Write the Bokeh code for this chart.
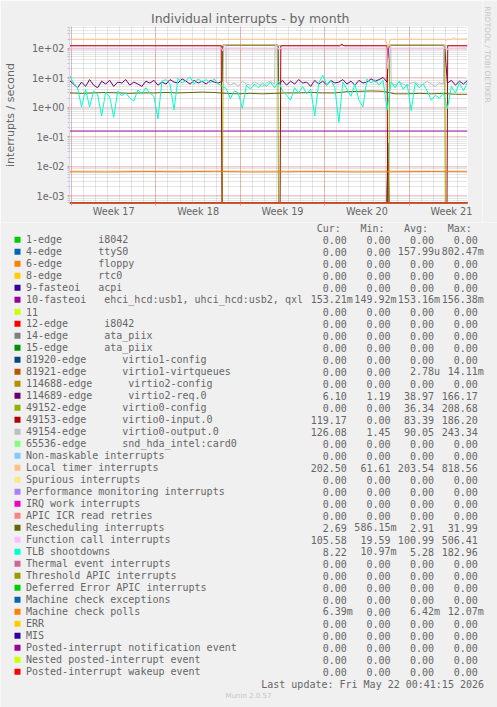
import re
import math
from bokeh.plotting import figure
from bokeh.models import (Range1d, FixedTicker, CustomJSTickFormatter, Grid, Title,
                          ColumnDataSource)
from bokeh.layouts import column, row
from bokeh.embed import file_html
from bokeh.resources import INLINE
from bokeh.core.properties import value

# ---------------------------------------------------------------- texts
TITLE = "Individual interrupts - by month"
Y_LABEL = "interrupts / second"
WATERMARK = "RRDTOOL / TOBI OETIKER"
FOOTER = "Munin 2.0.57"
LAST_UPDATE = "Last update: Fri May 22 00:41:15 2026"
HEADERS = ["Cur:", "Min:", "Avg:", "Max:"]

# ---------------------------------------------------------------- axes (x in days of the 33-day window)
X_SPAN = [0, 33]
WEEK_STARTS = [0.165, 7.165, 14.165, 21.165, 28.165]
WEEK_LABEL_POS = [3.665, 10.665, 17.665, 24.665, 31.665]
WEEK_LABELS = ["Week 17", "Week 18", "Week 19", "Week 20", "Week 21"]
DAY_TICKS = [round(0.165 + d, 3) for d in range(33)]
Y_RANGE = [5.36e-4, 536.0]
Y_TICKS = [1e-3, 1e-2, 1e-1, 1.0, 10.0, 100.0]
Y_TICK_LABELS = ["1e-03", "1e-02", "1e-01", "1e+00", "1e+01", "1e+02"]
Y_MINOR = [m * 10.0 ** e for e in range(-4, 3) for m in range(2, 10)
           if Y_RANGE[0] <= m * 10.0 ** e <= Y_RANGE[1]]

# ---------------------------------------------------------------- legend
LABELS = [
    "1-edge      i8042", "4-edge      ttyS0", "6-edge      floppy", "8-edge      rtc0",
    "9-fasteoi   acpi", "10-fasteoi   ehci_hcd:usb1, uhci_hcd:usb2, qxl", "11",
    "12-edge      i8042", "14-edge      ata_piix", "15-edge      ata_piix",
    "81920-edge      virtio1-config", "81921-edge      virtio1-virtqueues",
    "114688-edge      virtio2-config", "114689-edge      virtio2-req.0",
    "49152-edge      virtio0-config", "49153-edge      virtio0-input.0",
    "49154-edge      virtio0-output.0", "65536-edge      snd_hda_intel:card0",
    "Non-maskable interrupts", "Local timer interrupts", "Spurious interrupts",
    "Performance monitoring interrupts", "IRQ work interrupts", "APIC ICR read retries",
    "Rescheduling interrupts", "Function call interrupts", "TLB shootdowns",
    "Thermal event interrupts", "Threshold APIC interrupts", "Deferred Error APIC interrupts",
    "Machine check exceptions", "Machine check polls", "ERR", "MIS",
    "Posted-interrupt notification event", "Nested posted-interrupt event",
    "Posted-interrupt wakeup event",
]
COLORS = [
    "#00CC00", "#0066B3", "#FF8000", "#FFCC00", "#330099", "#990099", "#CCFF00", "#FF0000",
    "#808080", "#008F00", "#00487D", "#B35A00", "#B38F00", "#6B006B", "#8FB300", "#B30000",
    "#BEBEBE", "#80FF80", "#80C9FF", "#FFC080", "#FFE680", "#AA80FF", "#EE00CC", "#FF8080",
    "#666600", "#FFBFFF", "#00FFCC", "#CC6699", "#999900", "#00CC00", "#0066B3", "#FF8000",
    "#FFCC00", "#330099", "#990099", "#CCFF00", "#FF0000",
]
Z = "0.00"
CUR = [Z, Z, Z, Z, Z, "153.21m", Z, Z, Z, Z, Z, Z, Z, "6.10", Z, "119.17", "126.08", Z, Z,
       "202.50", Z, Z, Z, Z, "2.69", "105.58", "8.22", Z, Z, Z, Z, "6.39m", Z, Z, Z, Z, Z]
MIN = [Z, Z, Z, Z, Z, "149.92m", Z, Z, Z, Z, Z, Z, Z, "1.19", Z, Z, "1.45", Z, Z,
       "61.61", Z, Z, Z, Z, "586.15m", "19.59", "10.97m", Z, Z, Z, Z, Z, Z, Z, Z, Z, Z]
AVG = [Z, "157.99u", Z, Z, Z, "153.16m", Z, Z, Z, Z, Z, "2.78u", Z, "38.97", "36.34", "83.39",
       "90.05", Z, Z, "203.54", Z, Z, Z, Z, "2.91", "100.99", "5.28", Z, Z, Z, Z, "6.42m",
       Z, Z, Z, Z, Z]
MAX = [Z, "802.47m", Z, Z, Z, "156.38m", Z, Z, Z, Z, Z, "14.11m", Z, "166.17", "208.68",
       "186.20", "243.34", Z, Z, "818.56", Z, Z, Z, Z, "31.99", "506.41", "182.96", Z, Z, Z,
       Z, "12.07m", Z, Z, Z, Z, Z]

# ---------------------------------------------------------------- series (day, value)
T_GRID = [i / 3 for i in range(100)]   # 8-hour samples

TLB = [12.0, 6.5, 4.5, 1.0, 4.0, 1.0, 3.5, 2.6, 0.5, 3.2, 2.2, 0.45, 3.5, 2.4, 3.0, 2.0,
       1.6, 3.8, 2.7, 4.5, 3.0, 2.3, 0.4, 7.5, 8.5, 6.0, 0.8, 9.5, 6.5, 8.0, 10.5, 6.0,
       9.0, 7.0, 8.5, 6.5, 9.0, 6.0, 5.0, 4.2, 1.9, 3.5, 3.0, 0.9, 5.5, 4.0, 6.0, 4.5,
       6.5, 5.0, 7.0, 4.5, 7.5, 3.5, 2.5, 1.7, 4.5, 3.0, 5.0, 2.8, 4.0, 0.5, 6.5, 12.0,
       5.5, 8.0, 4.5, 0.3, 7.0, 4.0, 2.3, 6.0, 1.7, 1.0, 9.0, 6.5, 8.5, 5.5, 8.0, 0.8,
       7.0, 4.5, 7.5, 4.0, 6.0, 0.75, 6.5, 4.5, 6.0, 3.5, 1.7, 2.5, 2.0, 3.0, 0.9, 5.0,
       3.0, 6.5, 3.5, 7.0]

VIRTIO2_REQ = ([8.0, 6.0, 4.5, 7.0, 5.0, 8.5, 5.5, 4.5, 7.5, 6.0, 8.0, 5.0, 7.0, 6.5, 8.5,
                5.5, 7.0, 6.0, 5.0, 7.5, 6.5, 8.0, 5.5, 7.0, 6.0, 8.5, 7.0, 6.5, 9.0, 7.5,
                6.0, 8.0, 6.5, 7.5, 6.0, 8.0, 7.0, 6.5, 7.5]
               + [None] * 13
               + [6.0, 8.0, 5.5, 7.5, 6.0, 8.5, 6.5, 7.0, 5.0, 8.0, 6.0, 7.5, 5.5, 8.0,
                  6.5, 7.0, 8.5, 6.0, 7.5, 5.5, 8.0, 6.5, 7.0, 9.0, 7.5, 8.5, 10.0, 7.0]
               + [None] * 14
               + [6.5, 8.0, 5.5, 7.5, 6.0, 8.0])
VIRTIO2_REQ_PLATEAUS = [(12.70, 17.30, 124.0), (26.50, 31.10, 124.0)]

OUTPUT0 = ([None] * 39
           + [7.0, 5.5, 6.5, 5.0, 7.5, 6.0, 5.5, 7.0, 6.0, 5.0, 6.5, 7.5, 6.0]
           + [None] * 28
           + [6.5, 5.5, 7.0, 6.0, 5.0, 6.5, 7.0, 5.5, 6.0, 7.5, 6.0, 5.0, 6.5, 6.0]
           + [None] * 6)
OUTPUT0_PLATEAUS = [(0.0, 12.98, 121.0), (17.05, 26.64, 121.0), (31.03, 33.0, 121.0)]

INPUT0_T = [0, 12.58, 12.64, 17.46, 17.52, 22.40, 22.58, 22.75, 26.33, 26.39, 31.30, 31.36, 33]
INPUT0_V = [119, 119, 0, 0, 119, 119, 135, 119, 119, 0, 0, 119, 119]

CONFIG0_T = [0, 12.68, 12.74, 17.27, 17.33, 26.48, 26.54, 31.10, 31.16, 33]
CONFIG0_V = [0, 0, 124, 124, 0, 0, 124, 124, 0, 0]

LOCAL_T = [0, 5, 10, 12.55, 12.65, 12.75, 15, 17.25, 17.35, 17.45, 20, 24, 26.2, 26.4,
           26.6, 29, 31.1, 31.2, 31.3, 31.75, 31.85, 31.95, 33]
LOCAL_V = [200, 199, 201, 200, 185, 200, 199, 200, 188, 200, 201, 199, 200, 105,
           200, 199, 200, 175, 200, 200, 228, 202, 202]

FCALL_T = [0, 8, 12.6, 12.7, 12.8, 17.3, 17.4, 17.5, 22, 26.25, 26.4, 26.55, 31.2, 31.3,
           31.4, 33]
FCALL_V = [100, 98, 100, 80, 101, 100, 85, 100, 102, 100, 20, 100, 100, 85, 100, 103]

RESCHED_T = list(range(34))
RESCHED_V = [3.0, 2.9, 3.0, 3.1, 3.0, 2.9, 3.0, 3.0, 3.1, 3.0, 3.1, 3.2, 3.1, 2.9, 2.8, 2.9,
             2.8, 2.9, 3.0, 3.0, 3.1, 3.0, 3.0, 3.3, 3.4, 3.5, 3.4, 2.8, 2.8, 2.9, 2.8, 2.9,
             2.7, 2.7]

MCP_T = [0, 3, 6, 9, 12, 15, 18, 21, 24, 27, 30, 33]
MCP_V = [0.0064, 0.0063, 0.0065, 0.0064, 0.0066, 0.0063, 0.0064, 0.0065, 0.0063, 0.0064,
         0.0065, 0.0064]

USB_T = [0, 33]
USB_V = [0.153, 0.153]

TTYS0_T = [0, 26.3, 26.4, 26.5, 33]
TTYS0_V = [0, 0, 0.06, 0, 0]

VQ_T = [0, 26.3, 26.42, 26.5, 33]
VQ_V = [0, 0, 0.014, 0, 0]

ZERO_T = [0, 33]
ZERO_V = [0, 0]


def from_grid(vals, plateaus):
    pts = [(t, v) for t, v in zip(T_GRID, vals) if v is not None]
    for a, b, lvl in plateaus:
        pts += [(a, lvl), (b, lvl)]
    pts.sort()
    return [q[0] for q in pts], [q[1] for q in pts]


SERIES = {i: (ZERO_T, ZERO_V) for i in range(len(LABELS))}
SERIES[1] = (TTYS0_T, TTYS0_V)
SERIES[5] = (USB_T, USB_V)
SERIES[11] = (VQ_T, VQ_V)
SERIES[13] = from_grid(VIRTIO2_REQ, VIRTIO2_REQ_PLATEAUS)
SERIES[14] = (CONFIG0_T, CONFIG0_V)
SERIES[15] = (INPUT0_T, INPUT0_V)
SERIES[16] = from_grid(OUTPUT0, OUTPUT0_PLATEAUS)
SERIES[19] = (LOCAL_T, LOCAL_V)
SERIES[24] = (RESCHED_T, RESCHED_V)
SERIES[25] = (FCALL_T, FCALL_V)
SERIES[26] = (T_GRID, TLB)
SERIES[31] = (MCP_T, MCP_V)

# output drawn beneath input so the red trace stays on top
DRAW_ORDER = list(range(len(LABELS)))
DRAW_ORDER.remove(16)
DRAW_ORDER.insert(DRAW_ORDER.index(15), 16)

# ---------------------------------------------------------------- styling
BG = "#F0F0F0"
FONT_COLOR = "#666666"
AXIS_COLOR = "#CFD6F8"
GRID_COLOR = "#8F8F8F"
MGRID_COLOR = "#DE4F4F"
W = 497
PW = 482                                   # chart figure width (watermark strip to its right)
TOP_H = 222
LEG_H = 485
FL, FR, FT, FB = 67, PW - 467, 26, 19      # borders around the plotting frame

p = figure(width=PW, height=TOP_H, y_axis_type="log",
           x_range=Range1d(*X_SPAN), y_range=Range1d(*Y_RANGE),
           output_backend="svg", toolbar_location=None,
           min_border_left=FL, min_border_right=FR, min_border_top=FT,
           min_border_bottom=FB, background_fill_color="#FFFFFF",
           border_fill_color=BG, outline_line_color=None, frame_align=False)
p.title = Title(text=TITLE, align="left", offset=81.5, standoff=1,
                text_font="DejaVu Sans", text_font_size="12.5px",
                text_font_style="normal", text_color=FONT_COLOR)
p.xgrid.visible = False
p.ygrid.visible = False


def add_grid(dim, ticks, color, alpha):
    p.add_layout(Grid(dimension=dim, ticker=FixedTicker(ticks=ticks),
                      grid_line_color=color, grid_line_alpha=alpha,
                      grid_line_dash="1 1", grid_line_width=1))


add_grid(0, DAY_TICKS, GRID_COLOR, 0.45)
add_grid(1, Y_MINOR, GRID_COLOR, 0.45)
add_grid(0, WEEK_STARTS, MGRID_COLOR, 0.6)
add_grid(1, Y_TICKS, MGRID_COLOR, 0.6)

xa = p.xaxis[0]
xa.ticker = FixedTicker(ticks=WEEK_LABEL_POS, minor_ticks=WEEK_STARTS)
xa.formatter = CustomJSTickFormatter(
    args=dict(pos=WEEK_LABEL_POS, lab=WEEK_LABELS),
    code="""let b = 0;
for (let i = 1; i < pos.length; i++) { if (Math.abs(pos[i]-tick) < Math.abs(pos[b]-tick)) b = i; }
return lab[b];""")
xa.major_tick_in = 0
xa.major_tick_out = 0
xa.minor_tick_in = 0
xa.minor_tick_out = 2
xa.minor_tick_line_color = "#EB9595"
xa.axis_line_color = None
xa.major_label_standoff = 0
xa.major_label_text_font = "DejaVu Sans"
xa.major_label_text_font_size = "9.7px"
xa.major_label_text_color = FONT_COLOR

ya = p.yaxis[0]
ya.ticker = FixedTicker(ticks=Y_TICKS, minor_ticks=Y_MINOR)
ya.formatter = CustomJSTickFormatter(
    args=dict(pos=Y_TICKS, lab=Y_TICK_LABELS),
    code="""let b = 0;
for (let i = 1; i < pos.length; i++) { if (Math.abs(Math.log(pos[i]/tick)) < Math.abs(Math.log(pos[b]/tick))) b = i; }
return lab[b];""")
ya.major_tick_in = 0
ya.major_tick_out = 2
ya.major_tick_line_color = "#EB9595"
ya.minor_tick_in = 0
ya.minor_tick_out = 2
ya.minor_tick_line_color = "#C4C4C4"
ya.axis_line_color = AXIS_COLOR
ya.major_label_standoff = 3
ya.major_label_text_font = "DejaVu Sans"
ya.major_label_text_font_size = "9.7px"
ya.major_label_text_color = FONT_COLOR
ya.axis_label = Y_LABEL
ya.axis_label_standoff = 12
ya.axis_label_text_font = "DejaVu Sans"
ya.axis_label_text_font_size = "11px"
ya.axis_label_text_font_style = "normal"
ya.axis_label_text_color = FONT_COLOR

floor = Y_RANGE[0] * 10 ** (0.7 / 29.5)
for i in DRAW_ORDER:
    t, v = SERIES[i]
    p.line(list(t), [max(val, floor) for val in v], line_color=COLORS[i], line_width=1)

# ---------------------------------------------------------------- watermark strip (pixel coords)
wfig = figure(width=W - PW, height=TOP_H, x_range=Range1d(PW, W), y_range=Range1d(TOP_H, 0),
              output_backend="svg", toolbar_location=None,
              x_axis_location=None, y_axis_location=None, min_border=0,
              background_fill_color=BG, border_fill_color=BG, outline_line_color=None,
              frame_align=False)
wfig.xgrid.visible = False
wfig.ygrid.visible = False
wfig.text(x=[487], y=[54], text=[WATERMARK], angle=-math.pi / 2,
          text_font=value("DejaVu Sans"), text_font_size=value("7.5px"),
          text_color="#C6C6C6", text_align="center", text_baseline="middle")

# ---------------------------------------------------------------- legend panel (pixel coords)
q = figure(width=W, height=LEG_H, x_range=Range1d(0, W), y_range=Range1d(LEG_H, 0),
           output_backend="svg", toolbar_location=None,
           x_axis_location=None, y_axis_location=None, min_border=0,
           background_fill_color=BG, border_fill_color=BG, outline_line_color=None,
           frame_align=False)
q.xgrid.visible = False
q.ygrid.visible = False

CW = 6.02
ROW0, ROW_DY = 17.3, 12.0
NAME_X = 25.5
FIELD_END = [352.3, 396.0, 439.5, 483.3]

rows_y = [ROW0 + ROW_DY * k for k in range(len(LABELS))]
q.rect(x=[17] * len(LABELS), y=rows_y, width=6, height=6, fill_color=COLORS,
       line_color=None)

lx, ly, lt = [], [], []
for lab, y in zip(LABELS, rows_y):
    m = re.match(r"^(\S+)(\s{2,})(.+)$", lab)
    if m:
        lx += [NAME_X, NAME_X + CW * (len(m.group(1)) + len(m.group(2)))]
        ly += [y, y]
        lt += [m.group(1), m.group(3)]
    else:
        lx.append(NAME_X)
        ly.append(y)
        lt.append(lab)
q.text(x="x", y="y", text="t", source=ColumnDataSource(dict(x=lx, y=ly, t=lt)),
       text_font=value("DejaVu Sans Mono"), text_font_size=value("10px"),
       text_color=FONT_COLOR, text_align="left", text_baseline="middle")

sx, sy, st = [], [], []
for col, vals in enumerate([CUR, MIN, AVG, MAX]):
    for s, y in zip(vals, rows_y):
        sx.append(FIELD_END[col] if s[-1].isalpha() else FIELD_END[col] - CW)
        sy.append(y)
        st.append(s)
for col, h in enumerate(HEADERS):
    sx.append(FIELD_END[col] - 2 * CW)
    sy.append(6.3)
    st.append(h)
sx.append(483.5)
sy.append(461.7)
st.append(LAST_UPDATE)
q.text(x="x", y="y", text="t", source=ColumnDataSource(dict(x=sx, y=sy, t=st)),
       text_font=value("DejaVu Sans Mono"), text_font_size=value("10px"),
       text_color=FONT_COLOR, text_align="right", text_baseline="middle")
q.text(x=[248], y=[473.7], text=[FOOTER], text_font=value("DejaVu Sans"),
       text_font_size=value("7px"), text_color="#C6C6C6", text_align="center",
       text_baseline="middle")

layout = column(row(p, wfig, spacing=0), q, spacing=0)
open("out.html", "w").write(file_html(layout, INLINE))
